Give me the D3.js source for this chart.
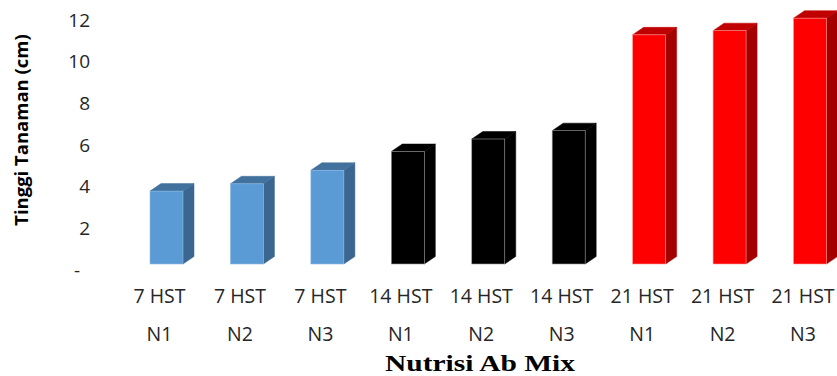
<!DOCTYPE html>
<html>
<head>
<meta charset="utf-8">
<script src="https://cdn.jsdelivr.net/npm/d3@7"></script>
<style>
  body { margin: 0; background: #fff; }
  svg { display: block; }
</style>
</head>
<body>
<div class="main-container"></div>
<script>
// data
const hstLabels = ["7 HST", "7 HST", "7 HST", "14 HST", "14 HST", "14 HST", "21 HST", "21 HST", "21 HST"];
const nutriLabels = ["N1", "N2", "N3", "N1", "N2", "N3", "N1", "N2", "N3"];
const heights = [3.5, 3.85, 4.5, 5.4, 6.0, 6.4, 11.0, 11.2, 11.8];
const yTicks = [0, 2, 4, 6, 8, 10, 12];

const width = 837;
const height = 376;
const barW = 33;
const depthX = 11;
const depthY = 7.5;

// colour per day group: front, side, top
const palette = {
    "7 HST": { front: "#5b9bd5", side: "#3a668f", top: "#41719c", edge: "#8fbbe3" },
    "14 HST": { front: "#000000", side: "#000000", top: "#000000", edge: "#999999" },
    "21 HST": { front: "#ff0000", side: "#a50000", top: "#c00000", edge: "#ff9a9a" }
};

const svg = d3.select(".main-container")
    .append("svg")
    .attr("width", width)
    .attr("height", height);

const idx = d3.range(heights.length);

const x = d3.scalePoint()
    .domain(idx)
    .range([166.5, 810]);

const y = d3.scaleLinear()
    .domain([0, 12])
    .range([264, 14]);

// y tick labels
svg.append("g")
    .selectAll("text")
    .data(yTicks)
    .enter()
    .append("text")
    .attr("x", d => d === 0 ? 80 : 90)
    .attr("y", d => y(d) + 6)
    .attr("dy", "0.35em")
    .attr("text-anchor", "end")
    .style("font-family", "'Open Sans', sans-serif")
    .style("font-size", "19px")
    .style("fill", "#262626")
    .text(d => d === 0 ? "-" : d);

// bars (fake 3d: side, top, front)
const bars = svg.append("g")
    .selectAll("g")
    .data(idx)
    .enter()
    .append("g");

bars.append("path")
    .attr("d", i => {
        const x1 = x(i) + barW / 2, y0 = y(0), y1 = y(heights[i]);
        return `M${x1},${y1}L${x1 + depthX},${y1 - depthY}L${x1 + depthX},${y0 - depthY}L${x1},${y0}Z`;
    })
    .style("fill", i => palette[hstLabels[i]].side)
    .style("stroke", i => palette[hstLabels[i]].side)
    .style("stroke-width", 0.5);

bars.append("path")
    .attr("d", i => {
        const x0 = x(i) - barW / 2, x1 = x(i) + barW / 2, y1 = y(heights[i]);
        return `M${x0},${y1}L${x0 + depthX},${y1 - depthY}L${x1 + depthX},${y1 - depthY}L${x1},${y1}Z`;
    })
    .style("fill", i => palette[hstLabels[i]].top)
    .style("stroke", i => palette[hstLabels[i]].top)
    .style("stroke-width", 0.5);

bars.append("rect")
    .attr("x", i => x(i) - barW / 2)
    .attr("y", i => y(heights[i]))
    .attr("width", barW)
    .attr("height", i => y(0) - y(heights[i]))
    .style("fill", i => palette[hstLabels[i]].front)
    .style("stroke", i => palette[hstLabels[i]].edge)
    .style("stroke-width", 0.6);

// category labels (two lines)
const catG = svg.append("g")
    .selectAll("g")
    .data(idx)
    .enter()
    .append("g")
    .style("font-family", "'Open Sans', sans-serif")
    .style("font-size", "19.5px")
    .style("fill", "#262626");

catG.append("text")
    .attr("x", i => x(i) - 7)
    .attr("y", 296)
    .attr("dy", "0.35em")
    .attr("text-anchor", "middle")
    .text(i => hstLabels[i]);

catG.append("text")
    .attr("x", i => x(i) - 7)
    .attr("y", 334)
    .attr("dy", "0.35em")
    .attr("text-anchor", "middle")
    .text(i => nutriLabels[i]);

// axis titles
svg.append("text")
    .attr("transform", "translate(22,130) rotate(-90)")
    .attr("dy", "0.35em")
    .attr("text-anchor", "middle")
    .style("font-family", "'Open Sans', sans-serif")
    .style("font-weight", "bold")
    .style("font-size", "18.5px")
    .style("fill", "#000")
    .text("Tinggi Tanaman (cm)");

svg.append("text")
    .attr("x", 385)
    .attr("y", 371)
    .attr("textLength", 190)
    .attr("lengthAdjust", "spacingAndGlyphs")
    .style("font-family", "'Liberation Serif', serif")
    .style("font-weight", "bold")
    .style("font-size", "23px")
    .style("fill", "#000")
    .text("Nutrisi Ab Mix");
</script>
</body>
</html>
